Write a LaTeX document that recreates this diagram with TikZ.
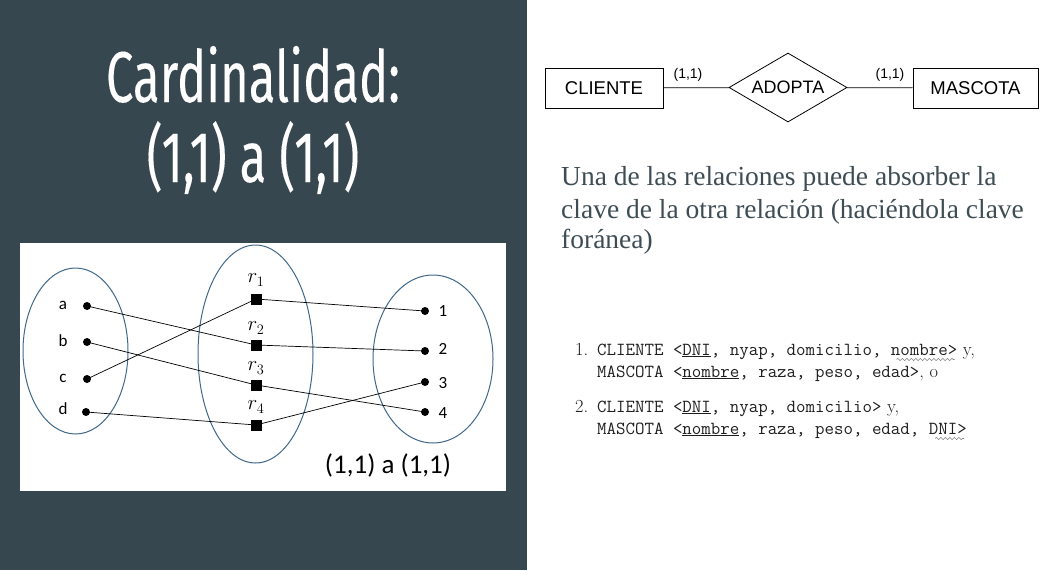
\documentclass[tikz,border=0pt]{standalone}
\usepackage{fontspec}
\newfontfamily\titlefont[FakeStretch=0.68,FakeBold=0.15]{Fira Sans}
\newfontfamily\erfont{Liberation Sans}
\newfontfamily\calfont{Carlito}
\newfontfamily\parafont{Liberation Serif}
\usetikzlibrary{shapes.geometric,decorations.pathmorphing}
\definecolor{slate}{RGB}{55,71,79}
\definecolor{ellblue}{RGB}{65,105,140}
\definecolor{paratext}{RGB}{62,76,84}
\definecolor{listtext}{RGB}{30,30,30}
\begin{document}
\begin{tikzpicture}[x=1pt,y=-1pt,
  title/.style={text=white, font=\titlefont\fontsize{72}{80}\selectfont, anchor=base, inner sep=0},
  setell/.style={draw=ellblue, line width=1pt, ellipse, inner sep=0},
  dot/.style={circle, fill=black, inner sep=0, minimum size=8pt},
  sq/.style={rectangle, fill=black, inner sep=0, minimum size=11pt},
  lbl/.style={font=\calfont\fontsize{17}{19}\selectfont, inner sep=0},
  rlbl/.style={font=\fontsize{20}{22}\selectfont, inner sep=0},
  conn/.style={draw=black, line width=0.7pt},
  erbox/.style={draw=black, line width=0.8pt, rectangle, minimum width=118pt, minimum height=40pt, inner sep=0, font=\erfont\fontsize{18.5}{20}\selectfont},
  errel/.style={draw=black, line width=0.8pt, diamond, minimum width=118pt, minimum height=69pt, inner sep=0},
  reltext/.style={font=\erfont\fontsize{18}{20}\selectfont, inner sep=0},
  card/.style={font=\erfont\fontsize{14}{16}\selectfont, inner sep=0},
  para/.style={text=paratext, font=\parafont\fontsize{27.5}{30}\selectfont, anchor=base west, inner sep=0},
  listl/.style={text=listtext, font=\fontsize{18.4}{20}\selectfont, anchor=base west, inner sep=0},
  wavy/.style={draw=gray, line width=0.6pt, decorate, decoration={snake, amplitude=1.1pt, segment length=4.5pt}}
]
\useasboundingbox (0,0) rectangle (1056,570);
\fill[slate] (0,0) rectangle (527,570);
\fill[white] (20,243) rectangle (506,491);

% title
\node[title] (t1) at (253,102) {Cardinalidad:};
\node[title] (t2) at (253,182) {(1,1) a (1,1)};

% sets
\node[setell, minimum width=105pt, minimum height=166pt] (A) at (75.5,351) {};
\node[setell, minimum width=115pt, minimum height=218pt] (R) at (255.5,354) {};
\node[setell, minimum width=120pt, minimum height=168pt] (B) at (433,359) {};

% elements
\node[dot] (a) at (87,306) {};
\node[dot] (b) at (87,342) {};
\node[dot] (c) at (87,379) {};
\node[dot] (d) at (86,412) {};
\node[lbl] (la) at (63,305) {a};
\node[lbl] (lb) at (63,341) {b};
\node[lbl] (lc) at (63,378) {c};
\node[lbl] (ld) at (63,409) {d};

\node[sq] (r1) at (256,299) {};
\node[sq] (r2) at (256,345) {};
\node[sq] (r3) at (256,385) {};
\node[sq] (r4) at (256,425) {};
\node[rlbl] (lr1) at (256,280) {$r_1$};
\node[rlbl] (lr2) at (256,328) {$r_2$};
\node[rlbl] (lr3) at (256,368) {$r_3$};
\node[rlbl] (lr4) at (256,407) {$r_4$};

\node[dot] (n1) at (425,311) {};
\node[dot] (n2) at (425,351) {};
\node[dot] (n3) at (425,382) {};
\node[dot] (n4) at (425,412) {};
\node[lbl] (l1) at (443,311) {1};
\node[lbl] (l2) at (443,349) {2};
\node[lbl] (l3) at (443,383) {3};
\node[lbl] (l4) at (443,413) {4};

\draw[conn] (a.center) -- (r2.center);
\draw[conn] (b.center) -- (r3.center);
\draw[conn] (c.center) -- (r1.center);
\draw[conn] (d.center) -- (r4.center);
\draw[conn] (r1.center) -- (n1.center);
\draw[conn] (r2.center) -- (n2.center);
\draw[conn] (r3.center) -- (n4.center);
\draw[conn] (r4.center) -- (n3.center);

\node[font=\calfont\fontsize{27}{30}\selectfont, anchor=base, inner sep=0] (cap) at (388,473) {(1,1) a (1,1)};

% ER diagram
\node[erbox] (cli) at (604,88) {CLIENTE};
\node[errel] (rel) at (788,87.5) {};
\node[reltext] (relt) at (788,87.5) {ADOPTA};
\node[erbox, minimum width=125pt] (mas) at (975.5,88) {MASCOTA};
\draw[line width=0.8pt] (cli) -- (rel);
\draw[line width=0.8pt] (rel) -- (mas);
\node[card] (c1) at (688,75) {(1,1)};
\node[card] (c2) at (890,75) {(1,1)};

% paragraph
\node[para] (p1) at (561,185) {Una de las relaciones puede absorber la};
\node[para] (p2) at (561,218) {clave de la otra relación (haciéndola clave};
\node[para] (p3) at (561,248) {foránea)};

% list
\node[listl] (i1) at (575,355) {1.};
\node[listl] (i2) at (575,412) {2.};
\node[listl] (s1) at (597,355) {{\ttfamily CLIENTE <\underline{DNI}, nyap, domicilio, nombre>} y,};
\node[listl] (s2) at (597,377) {{\ttfamily MASCOTA <\underline{nombre}, raza, peso, edad>}, o};
\node[listl] (s3) at (597,412) {{\ttfamily CLIENTE <\underline{DNI}, nyap, domicilio>} y,};
\node[listl] (s4) at (597,434) {{\ttfamily MASCOTA <\underline{nombre}, raza, peso, edad, DNI>}};
\coordinate (w1a) at (896.5,359.5);
\coordinate (w1b) at (954.5,359.5);
\coordinate (w4a) at (935,438.5);
\coordinate (w4b) at (964,438.5);
\draw[wavy] (w1a) -- (w1b);
\draw[wavy] (w4a) -- (w4b);
\end{tikzpicture}
\end{document}
